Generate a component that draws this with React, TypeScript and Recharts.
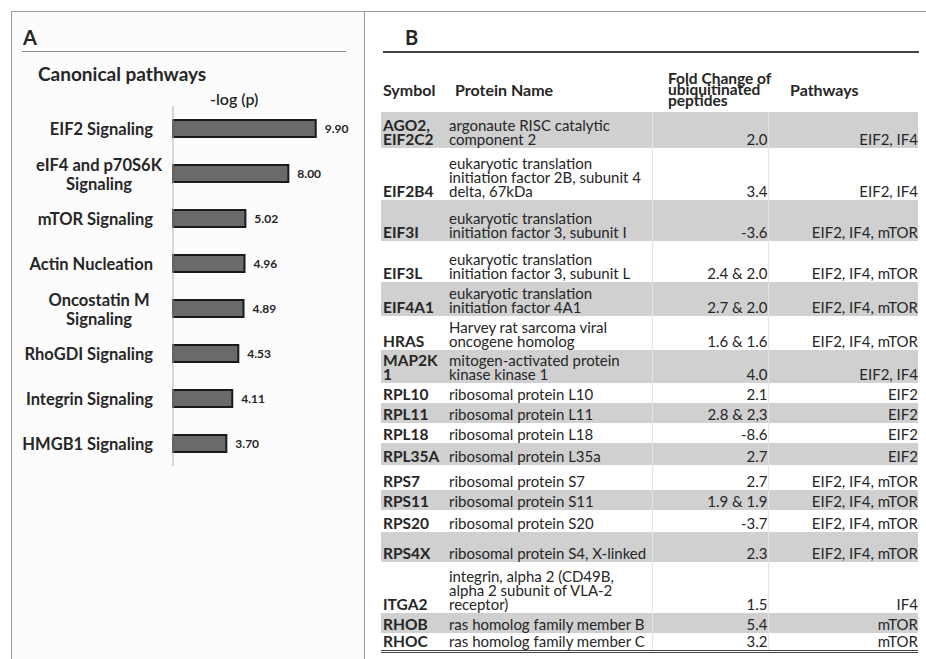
import { BarChart, Bar, XAxis, YAxis, LabelList } from "recharts";

// Panel A: canonical pathways, -log(p)
const pathways = [
  "EIF2 Signaling",
  "eIF4 and p70S6K\nSignaling",
  "mTOR Signaling",
  "Actin Nucleation",
  "Oncostatin M\nSignaling",
  "RhoGDI Signaling",
  "Integrin Signaling",
  "HMGB1 Signaling",
];
const negLogP = [9.9, 8.0, 5.02, 4.96, 4.89, 4.53, 4.11, 3.7];

// Panel B: ubiquitinated proteins table
const symbols = [
  "AGO2,\nEIF2C2", "EIF2B4", "EIF3I", "EIF3L", "EIF4A1", "HRAS", "MAP2K\n1",
  "RPL10", "RPL11", "RPL18", "RPL35A", "RPS7", "RPS11", "RPS20", "RPS4X",
  "ITGA2", "RHOB", "RHOC",
];
const proteinNames = [
  "argonaute RISC catalytic\ncomponent 2",
  "eukaryotic translation\ninitiation factor 2B, subunit 4\ndelta, 67kDa",
  "eukaryotic translation\ninitiation factor 3, subunit I",
  "eukaryotic translation\ninitiation factor 3, subunit L",
  "eukaryotic translation\ninitiation factor 4A1",
  "Harvey rat sarcoma viral\noncogene homolog",
  "mitogen-activated protein\nkinase kinase 1",
  "ribosomal protein L10",
  "ribosomal protein L11",
  "ribosomal protein L18",
  "ribosomal protein L35a",
  "ribosomal protein S7",
  "ribosomal protein S11",
  "ribosomal protein S20",
  "ribosomal protein S4, X-linked",
  "integrin, alpha 2 (CD49B,\nalpha 2 subunit of VLA-2\nreceptor)",
  "ras homolog family member B",
  "ras homolog family member C",
];
const foldChanges = [
  "2.0", "3.4", "-3.6", "2.4 & 2.0", "2.7 & 2.0", "1.6 & 1.6", "4.0",
  "2.1", "2.8 & 2,3", "-8.6", "2.7", "2.7", "1.9 & 1.9", "-3.7", "2.3",
  "1.5", "5.4", "3.2",
];
const pathwayTags = [
  "EIF2, IF4", "EIF2, IF4", "EIF2, IF4, mTOR", "EIF2, IF4, mTOR", "EIF2, IF4, mTOR",
  "EIF2, IF4, mTOR", "EIF2, IF4", "EIF2", "EIF2", "EIF2", "EIF2",
  "EIF2, IF4, mTOR", "EIF2, IF4, mTOR", "EIF2, IF4, mTOR", "EIF2, IF4, mTOR",
  "IF4", "mTOR", "mTOR",
];

// row heights of the table (layout only)
const ROW_H = [36, 52, 41, 41, 34, 34, 33, 20, 20, 20, 22, 25, 20, 22, 30, 51, 20, 18];

const FONT = "Lato, 'Open Sans', sans-serif";
const FRAME = "#9a9a9a";

const chartData = pathways.map((name, i) => ({ name, value: negLogP[i] }));

function PathwayTick(props: any) {
  const { x, y, payload } = props;
  const lines = String(payload.value).split("\n");
  const style = { fontFamily: FONT, fontWeight: 700, fontSize: 16.5, fill: "#262626" };
  if (lines.length === 1) {
    return (
      <text x={x} y={y} dy={6} textAnchor="end" style={style}>
        {lines[0]}
      </text>
    );
  }
  return (
    <text x={x - 54} y={y} textAnchor="middle" style={style}>
      <tspan x={x - 54} dy={-3}>{lines[0]}</tspan>
      <tspan x={x - 54} dy={19}>{lines[1]}</tspan>
    </text>
  );
}

export default function App() {
  const cell = {
    verticalAlign: "bottom" as const,
    padding: "0 0 2px 0",
    whiteSpace: "pre-line" as const,
    lineHeight: "14px",
  };
  const head = {
    textAlign: "left" as const,
    fontWeight: 700,
    verticalAlign: "middle" as const,
    fontSize: 16,
  };
  return (
    <div
      style={{
        position: "absolute",
        left: 0,
        top: 0,
        width: 926,
        height: 659,
        background: "#fff",
        fontFamily: FONT,
        color: "#262626",
        overflow: "hidden",
      }}
    >
      {/* frame */}
      <div style={{ position: "absolute", left: 11, top: 11, width: 915, height: 1, background: FRAME }} />
      <div style={{ position: "absolute", left: 11, top: 11, width: 1, height: 648, background: FRAME }} />
      <div style={{ position: "absolute", left: 364, top: 11, width: 1, height: 648, background: FRAME }} />
      <div style={{ position: "absolute", left: 12, top: 12, width: 352, height: 647, background: "#fcfcfc" }} />

      {/* panel A */}
      <div style={{ position: "absolute", left: 23, top: 25, fontSize: 20, fontWeight: 700 }}>A</div>
      <div style={{ position: "absolute", left: 22, top: 51, width: 324, height: 1, background: "#8a8a8a" }} />
      <div style={{ position: "absolute", left: 38, top: 62, fontSize: 19, fontWeight: 700 }}>Canonical pathways</div>
      <div style={{ position: "absolute", left: 210, top: 89, fontSize: 16, fontWeight: 600 }}>-log (p)</div>
      <div style={{ position: "absolute", left: 0, top: 0 }}>
        <BarChart
          width={365}
          height={480}
          data={chartData}
          layout="vertical"
          margin={{ top: 106, right: 19, bottom: 14, left: 0 }}
          barCategoryGap={0}
        >
          <XAxis type="number" domain={[0, 12]} hide />
          <YAxis
            type="category"
            dataKey="name"
            width={173}
            axisLine={{ stroke: "#b0b0b0", strokeWidth: 1 }}
            tickLine={false}
            tickSize={0}
            tickMargin={20}
            interval={0}
            tick={<PathwayTick />}
          />
          <Bar dataKey="value" barSize={17} fill="#6a6a6a" stroke="#1a1a1a" strokeWidth={2} isAnimationActive={false}>
            <LabelList
              dataKey="value"
              position="right"
              offset={9}
              formatter={(v: any) => Number(v).toFixed(2)}
              style={{ fontFamily: FONT, fontSize: 12, fontWeight: 700, fill: "#262626" }}
            />
          </Bar>
        </BarChart>
      </div>

      {/* panel B */}
      <div style={{ position: "absolute", left: 405, top: 25, fontSize: 20, fontWeight: 700 }}>B</div>
      <div style={{ position: "absolute", left: 383, top: 51, width: 536, height: 1.5, background: "#444" }} />
      <table
        style={{
          position: "absolute",
          left: 381,
          top: 67,
          width: 537,
          borderCollapse: "collapse",
          tableLayout: "fixed",
          fontSize: 15,
          borderBottom: "3px double #444",
        }}
      >
        <colgroup>
          <col style={{ width: 68 }} />
          <col style={{ width: 203 }} />
          <col style={{ width: 116 }} />
          <col style={{ width: 150 }} />
        </colgroup>
        <thead>
          <tr style={{ height: 45 }}>
            <th style={{ ...head, padding: "0 0 0 2px" }}>Symbol</th>
            <th style={{ ...head, padding: "0 0 0 6px" }}>Protein Name</th>
            <th
              style={{
                ...head,
                padding: "0 0 0 16px",
                lineHeight: "11px",
                whiteSpace: "pre",
                overflow: "visible",
                fontSize: 15.5,
              }}
            >
              {"Fold Change of\nubiquitinated\npeptides"}
            </th>
            <th style={{ ...head, padding: "0 0 0 22px" }}>Pathways</th>
          </tr>
        </thead>
        <tbody>
          {symbols.map((sym, i) => {
            const bg = i % 2 === 0 ? "#d0d0d0" : "#ffffff";
            return (
              <tr key={i} style={{ height: ROW_H[i], background: bg }}>
                <td style={{ ...cell, fontWeight: 700, fontSize: 15.5, paddingLeft: 2 }}>{sym}</td>
                <td style={{ ...cell, paddingLeft: 0 }}>{proteinNames[i]}</td>
                <td style={{ ...cell, textAlign: "right", borderLeft: "1px solid #e4e4e4" }}>{foldChanges[i]}</td>
                <td style={{ ...cell, textAlign: "right", borderLeft: "1px solid #e4e4e4" }}>{pathwayTags[i]}</td>
              </tr>
            );
          })}
        </tbody>
      </table>
    </div>
  );
}
